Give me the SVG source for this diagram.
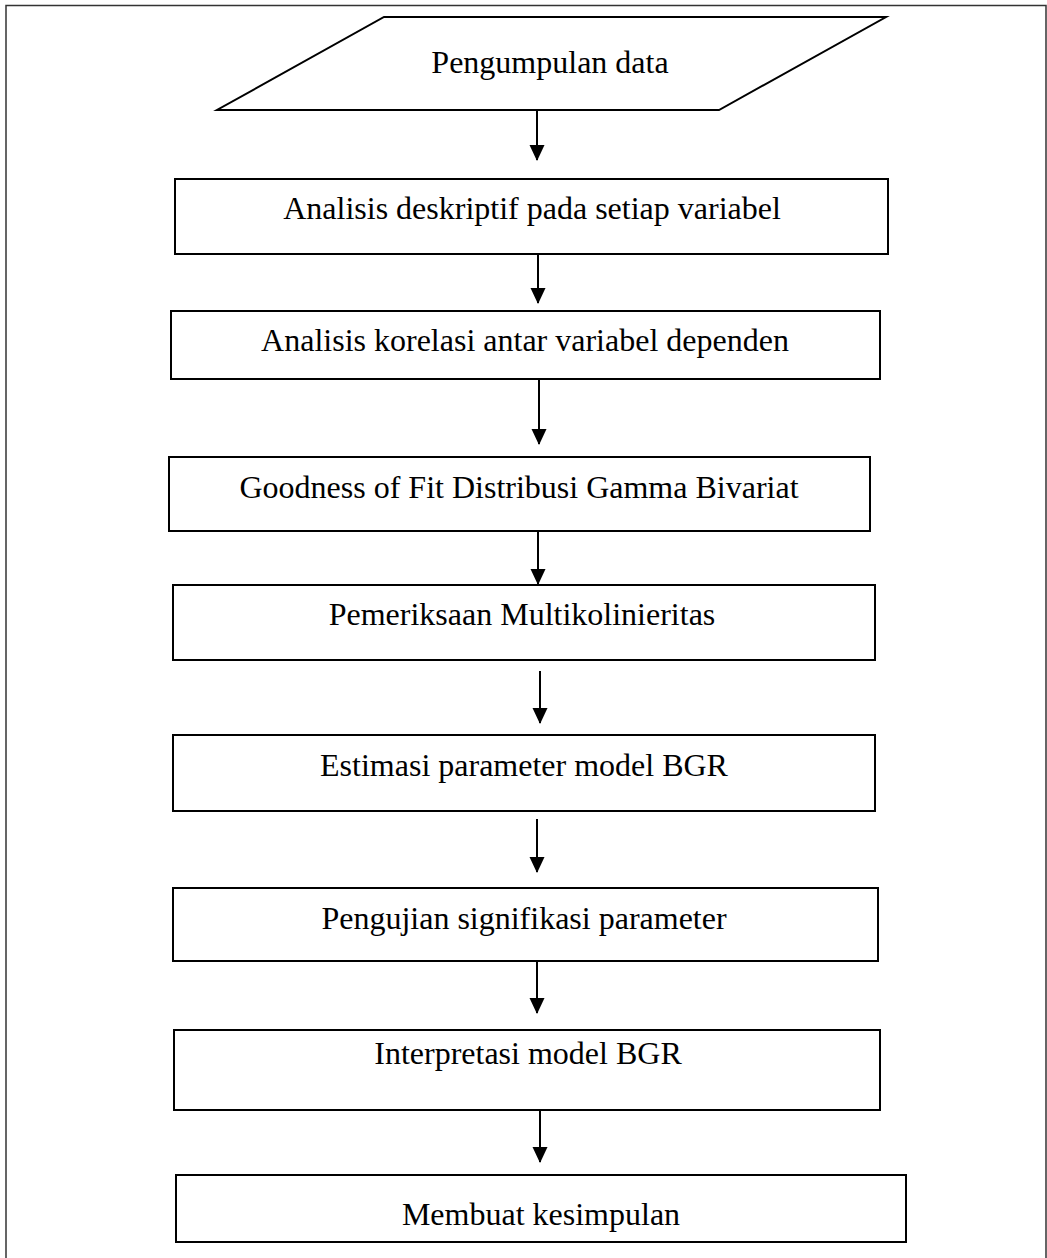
<svg xmlns="http://www.w3.org/2000/svg" width="1047" height="1258" viewBox="0 0 1047 1258">
<defs>
<style>
.frame{fill:none;stroke:#333;stroke-width:1.5}
.node{fill:#fff;stroke:#000;stroke-width:2}
.lbl{font-family:"Liberation Serif","Times New Roman",serif;font-size:32px;fill:#000;text-anchor:middle}
.edge{fill:none;stroke:#000;stroke-width:2}
</style>
<marker id="ah" markerUnits="userSpaceOnUse" markerWidth="16" markerHeight="17" refX="15" refY="8" orient="auto">
<path d="M0,0.5 L16,8 L0,15.5 Z" fill="#000"/>
</marker>
</defs>
<rect x="0" y="0" width="1047" height="1258" fill="#fff"/>
<path class="frame" d="M6,1258 V5.5 H1046 V1258"/>
<g id="n0"><polygon class="node" points="384,17 886,17 719,110 217,110"/><text class="lbl" x="550" y="73">Pengumpulan data</text></g>
<g id="n1"><rect class="node" x="175" y="179" width="713" height="75"/><text class="lbl" x="532" y="219">Analisis deskriptif pada setiap variabel</text></g>
<g id="n2"><rect class="node" x="171" y="311" width="709" height="68"/><text class="lbl" x="525" y="351">Analisis korelasi antar variabel dependen</text></g>
<g id="n3"><rect class="node" x="169" y="457" width="701" height="74"/><text class="lbl" x="519" y="498">Goodness of Fit Distribusi Gamma Bivariat</text></g>
<g id="n4"><rect class="node" x="173" y="585" width="702" height="75"/><text class="lbl" x="522" y="625">Pemeriksaan Multikolinieritas</text></g>
<g id="n5"><rect class="node" x="173" y="735" width="702" height="76"/><text class="lbl" x="524" y="776">Estimasi parameter model BGR</text></g>
<g id="n6"><rect class="node" x="173" y="888" width="705" height="73"/><text class="lbl" x="524" y="929">Pengujian signifikasi parameter</text></g>
<g id="n7"><rect class="node" x="174" y="1030" width="706" height="80"/><text class="lbl" x="528" y="1064">Interpretasi model BGR</text></g>
<g id="n8"><rect class="node" x="176" y="1175" width="730" height="67"/><text class="lbl" x="541" y="1225">Membuat kesimpulan</text></g>
<g id="edges">
<line class="edge" x1="537" y1="110" x2="537" y2="160" marker-end="url(#ah)"/>
<line class="edge" x1="538" y1="254" x2="538" y2="303" marker-end="url(#ah)"/>
<line class="edge" x1="539" y1="379" x2="539" y2="444" marker-end="url(#ah)"/>
<line class="edge" x1="538" y1="531" x2="538" y2="584" marker-end="url(#ah)"/>
<line class="edge" x1="540" y1="671" x2="540" y2="723" marker-end="url(#ah)"/>
<line class="edge" x1="537" y1="819" x2="537" y2="872" marker-end="url(#ah)"/>
<line class="edge" x1="537" y1="961" x2="537" y2="1013" marker-end="url(#ah)"/>
<line class="edge" x1="540" y1="1110" x2="540" y2="1162" marker-end="url(#ah)"/>
</g>
</svg>
